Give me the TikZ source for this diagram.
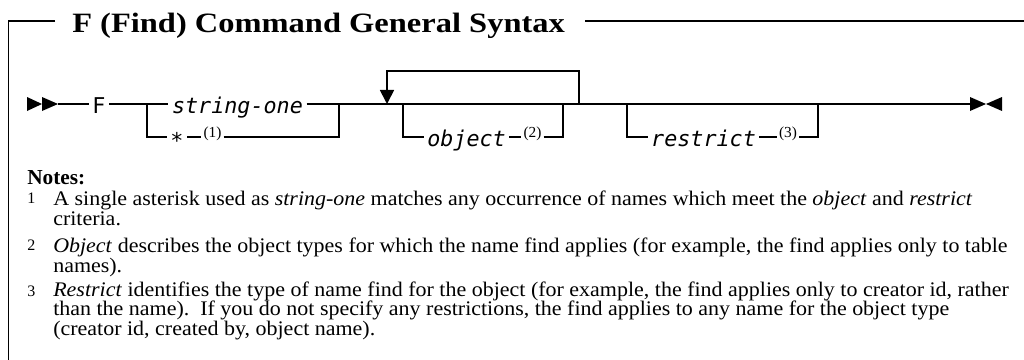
\documentclass[tikz,border=0pt]{standalone}
\usepackage{fontspec}
\setmainfont{Liberation Serif}
\newfontfamily\titlefont[FakeStretch=1.16]{Liberation Serif}
\newfontfamily\notefont[FakeStretch=1.06]{Liberation Serif}
\newfontfamily\railfont{DejaVu Sans Mono}
\usetikzlibrary{arrows.meta,positioning}
\tikzset{
	rail/.style={line width=1.3pt},
	frame/.style={line width=1.2pt},
	railword/.style={font=\railfont\fontsize{16.3}{18}\selectfont, inner xsep=2.5pt, inner ysep=0pt, text height=16pt, text depth=1.8pt},
	railvar/.style={railword, font=\railfont\itshape\fontsize{16.3}{18}\selectfont},
	noteref/.style={font=\fontsize{11.5}{12}\selectfont, inner xsep=1.5pt, inner ysep=0pt, text height=1pt, text depth=0pt},
	notenum/.style={font=\fontsize{12}{12}\selectfont, inner sep=0pt, anchor=base west},
	notetext/.style={font=\notefont\fontsize{15.55}{14.6}\selectfont, align=left, inner sep=0pt, anchor=base west},
	tip/.style={fill=black}
}
\begin{document}
\begin{tikzpicture}[x=0.75pt, y=-0.75pt]
\useasboundingbox (0,0) rectangle (1024,360);
% title and frame
\node[anchor=base west, inner sep=0pt, font=\titlefont\bfseries\fontsize{21}{21}\selectfont] (title) at (72,33) {F (Find) Command General Syntax};
\draw[frame] (55,21) -| (8.5,360);
\draw[frame] (585,21) -- (1024,21);
% syntax line
\fill[tip] (27,97) -- (42,104) -- (27,111) -- cycle;
\fill[tip] (42,97) -- (58,104) -- (42,111) -- cycle;
\coordinate (begin) at (58,104);
\node[railword] (F) at (99,104) {F};
\coordinate (split1) at (147,104);
\node[railvar] (str) at (237.5,104) {string-one};
\node[railword, text height=17pt, text depth=0.5pt] (star) at (177,137) {*};
\node[noteref] (ref1) at (212.5,137) {(1)};
\coordinate (join1) at (339,104);
\coordinate (loopin) at (387,104);
\coordinate (objin) at (403,104);
\node[railvar] (obj) at (466.5,137) {object};
\node[noteref] (ref2) at (532.5,137) {(2)};
\coordinate (objout) at (563,104);
\coordinate (loopout) at (579,104);
\coordinate (resin) at (627,104);
\node[railvar] (res) at (703.5,137) {restrict};
\node[noteref] (ref3) at (788,137) {(3)};
\coordinate (resout) at (818,104);
\coordinate (end) at (970,104);
\draw[rail] (begin) -- (F) -- (str) -- (join1) -- (end);
\draw[rail] (split1) |- (star);
\draw[rail] (star) -- (ref1) -| (join1);
\draw[rail, -{Triangle[length=10.5pt, width=10.5pt]}] (loopout) -- ++(0,-33) -| (loopin);
\draw[rail] (objin) |- (obj) -- (ref2) -| (objout);
\draw[rail] (resin) |- (res) -- (ref3) -| (resout);
\fill[tip] (970,97) -- (986,104) -- (970,111) -- cycle;
\fill[tip] (1002,97) -- (986,104) -- (1002,111) -- cycle;
% notes
\node[anchor=base west, inner sep=0pt, font=\bfseries\fontsize{16}{16}\selectfont] (notes) at (27,184) {Notes:};
\node[notenum] (num1) at (27,203) {1};
\node[notetext] (note1) at (53,225) {A single asterisk used as \textit{string-one} matches any occurrence of names which meet the \textit{object} and \textit{restrict}\\criteria.};
\node[notenum] (num2) at (27,250) {2};
\node[notetext] (note2) at (53,272) {\textit{Object} describes the object types for which the name find applies (for example, the find applies only to table\\names).};
\node[notenum] (num3) at (27,296) {3};
\node[notetext] (note3) at (53,335) {\textit{Restrict} identifies the type of name find for the object (for example, the find applies only to creator id, rather\\than the name).\ \ If you do not specify any restrictions, the find applies to any name for the object type\\(creator id, created by, object name).};
\end{tikzpicture}
\end{document}
